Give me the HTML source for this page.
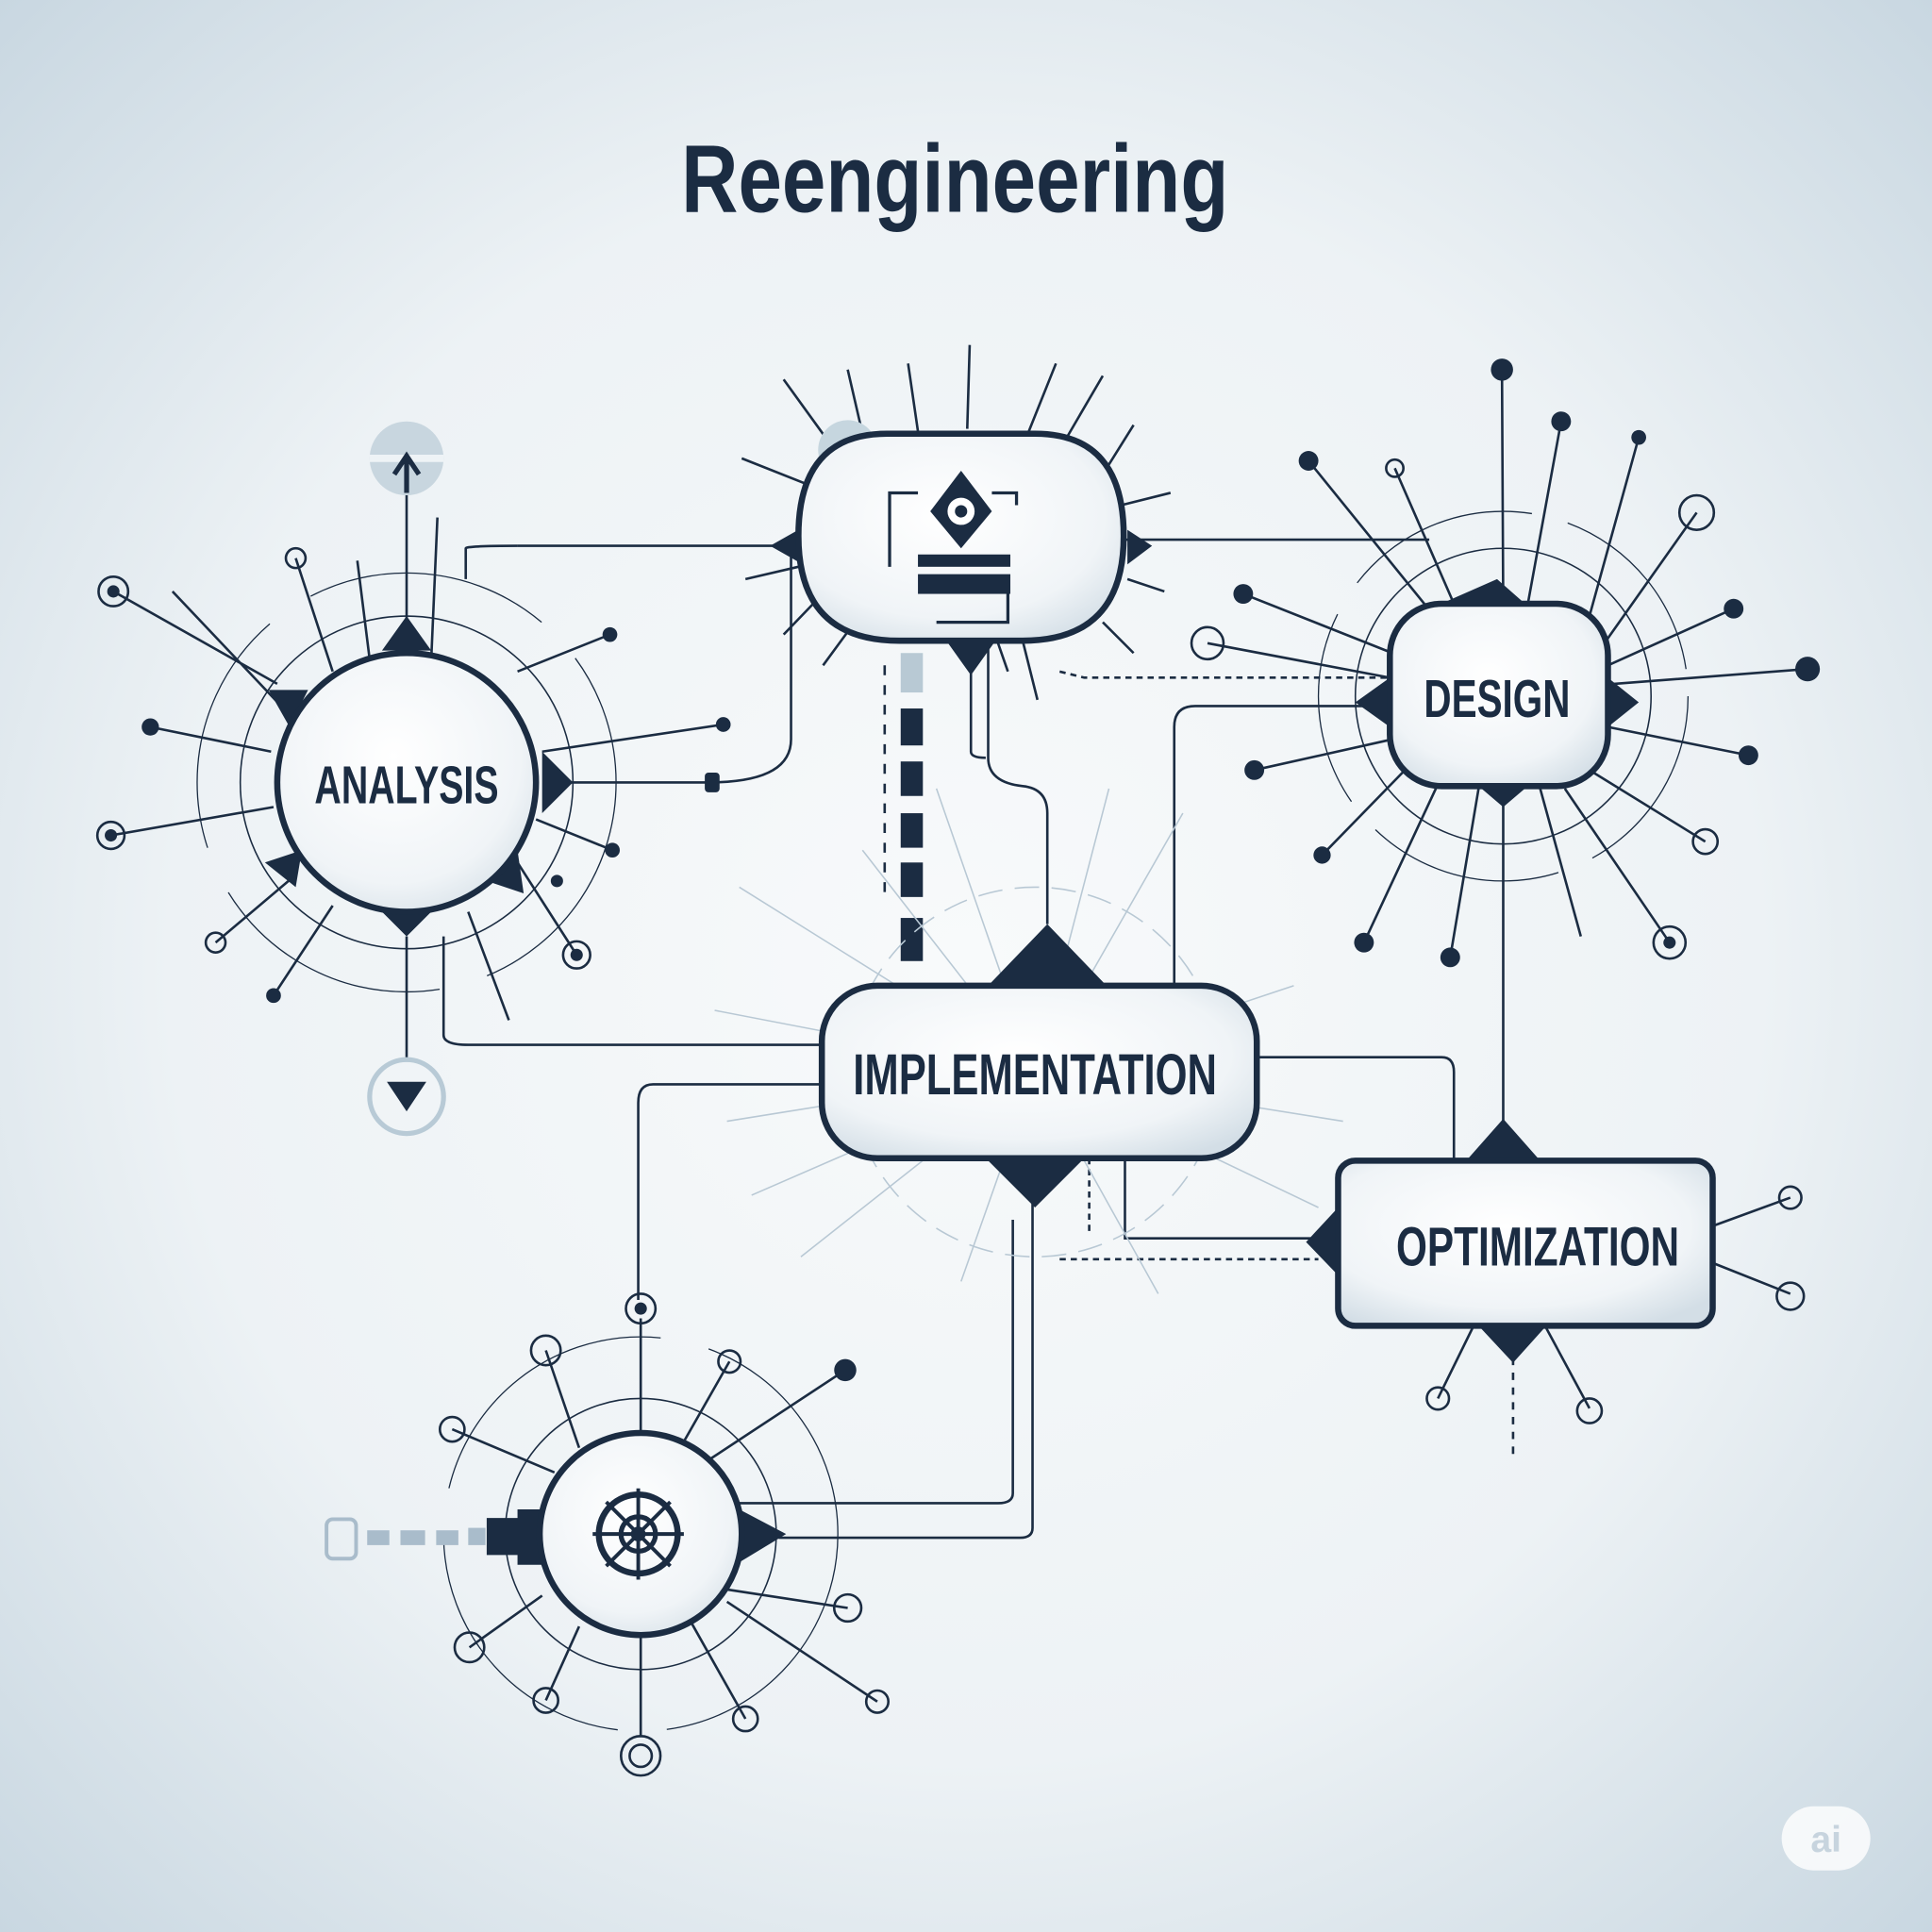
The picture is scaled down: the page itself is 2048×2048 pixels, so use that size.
<!DOCTYPE html>
<html><head><meta charset="utf-8"><style>
html,body{margin:0;padding:0;width:2048px;height:2048px;overflow:hidden}
svg{display:block}
text{font-family:"Liberation Sans Narrow","Liberation Sans",sans-serif;font-weight:bold;fill:#1b2c42}
</style></head><body>
<svg width="2048" height="2048" viewBox="0 0 1568 1568" xmlns="http://www.w3.org/2000/svg">
<defs>
<radialGradient id="bg" cx="50%" cy="50%" r="75%">
<stop offset="0" stop-color="#f8fafb"/><stop offset="0.55" stop-color="#edf2f5"/><stop offset="1" stop-color="#c3d3de"/>
</radialGradient>
<radialGradient id="nd" cx="45%" cy="40%" r="70%">
<stop offset="0" stop-color="#ffffff"/><stop offset="0.7" stop-color="#f0f4f7"/><stop offset="1" stop-color="#d3dee6"/>
</radialGradient>
</defs>
<rect width="1568" height="1568" fill="url(#bg)"/>
<text x="775" y="172" font-size="78" text-anchor="middle" transform="translate(775 0) scale(0.82 1) translate(-775 0)">Reengineering</text>

<g stroke="#1b2c42" stroke-width="2" fill="none">
<path d="M420 443 H640"/>
<path d="M378 470 V445 Q378 443 420 443"/>
<path d="M445 635 H575 Q642 635 642 600 V450"/>
<path d="M360 760 V840 Q360 848 380 848 H667"/>
<path d="M912 438 H1160"/>
<path d="M953 800 V590 Q953 573 970 573 H1128"/>
<path d="M850 750 V660 Q850 640 830 638 Q802 635 802 615 V520"/>
<path d="M788 520 V610 Q788 615 800 615"/>
<path d="M1020 858 H1170 Q1180 858 1180 870 V942"/>
<path d="M913 940 V1005 H1070"/>
<path d="M667 880 H530 Q518 880 518 895 V1055"/>
<path d="M838 960 V1240 Q838 1248 828 1248 H632"/>
<path d="M822 990 V1212 Q822 1220 810 1220 H600"/>
<path d="M1220 640 V942"/>
<path d="M330 530 V380"/>
<path d="M330 760 V860"/>
<path stroke-dasharray="5 4" d="M860 1022 H1070"/>
<path stroke-dasharray="5 4" d="M884 940 V1003"/>
<path stroke-dasharray="5 4" d="M860 545 L880 550 H1130"/>
<path stroke-dasharray="6 6" d="M1228 1078 V1180"/>
<path stroke-dasharray="8 8" d="M718 540 V730"/>
</g>
<g fill="#1b2c42">
<rect x="731" y="575" width="18" height="30"/><rect x="731" y="618" width="18" height="28"/><rect x="731" y="660" width="18" height="28"/><rect x="731" y="700" width="18" height="28"/><rect x="731" y="745" width="18" height="35"/>
</g>
<rect x="731" y="530" width="18" height="32" fill="#b8c9d4"/>

<g stroke="#b8c8d4" stroke-width="1.2">
<path d="M840 870 L600 720 M840 870 L580 820 M840 870 L590 910 M840 870 L610 970 M840 870 L650 1020 M840 870 L780 1040 M840 870 L940 1050 M840 870 L1070 980 M840 870 L1090 910 M840 870 L1050 800 M840 870 L960 660 M840 870 L900 640 M840 870 L700 690 M840 870 L760 640"/>
<circle cx="840" cy="870" r="150" fill="none" stroke-dasharray="20 10"/>
</g>

<g stroke="#1b2c42" stroke-width="2" fill="none">
<circle cx="330" cy="635" r="135" stroke-width="1.2"/>
<circle cx="330" cy="635" r="170" stroke-width="1" stroke-dasharray="200 40"/>
<path d="M225 555 L92 480 M220 610 L122 590 M222 655 L90 678 M240 710 L175 765 M270 735 L222 808 M380 740 L413 828 M420 700 L468 775 M435 665 L497 690 M440 610 L587 588 M420 545 L495 515 M350 535 L355 420 M300 535 L290 455 M270 545 L240 453 M230 575 L140 480"/>
<circle cx="92" cy="480" r="12"/><circle cx="90" cy="678" r="11"/><circle cx="175" cy="765" r="8"/><circle cx="468" cy="775" r="11"/><circle cx="240" cy="453" r="8"/>
</g>
<g fill="#1b2c42"><circle cx="92" cy="480" r="5"/><circle cx="90" cy="678" r="5"/><circle cx="122" cy="590" r="7"/><circle cx="222" cy="808" r="6"/><circle cx="497" cy="690" r="6"/><circle cx="495" cy="515" r="6"/><circle cx="452" cy="715" r="5"/><circle cx="468" cy="775" r="5"/><rect x="572" y="627" width="12" height="16" rx="3"/><circle cx="587" cy="588" r="6"/></g>
<circle cx="330" cy="372" r="30" fill="#c8d6df"/><path d="M300 372 H360" stroke="#eef3f6" stroke-width="6"/>
<path d="M330 400 V372 M320 385 L330 370 L340 385" stroke="#1b2c42" stroke-width="4" fill="none"/>
<circle cx="330" cy="890" r="30" fill="none" stroke="#b8cad6" stroke-width="4"/>
<path d="M314 878 L346 878 L330 902 Z" fill="#1b2c42"/>
<path d="M330 500 L350 528 L310 528 Z M218 560 L250 560 L235 590 Z M215 700 L245 690 L240 720 Z M420 690 L425 725 L395 715 Z M310 740 L350 740 L330 760 Z M440 610 L465 635 L440 660 Z" fill="#1b2c42"/>
<circle cx="330" cy="635" r="105" fill="url(#nd)" stroke="#1b2c42" stroke-width="5"/>
<text x="330" y="652" font-size="43" text-anchor="middle" transform="translate(330 0) scale(0.7 1) translate(-330 0)">ANALYSIS</text>

<g stroke="#1b2c42" stroke-width="2">
<path d="M670 355 L636 308 M700 352 L688 300 M745 350 L737 295 M785 348 L787 280 M835 350 L857 295 M860 365 L895 305 M895 385 L920 345 M910 410 L950 400 M915 470 L945 480 M895 505 L920 530 M830 520 L842 568 M810 522 L818 545 M690 510 L668 540 M660 490 L636 515 M648 460 L605 470 M660 395 L602 372"/>
</g>
<circle cx="688" cy="365" r="24" fill="#c6d6df"/>
<path d="M625 443 L648 430 L648 456 Z M915 430 L935 443 L915 458 Z M768 520 L808 520 L788 548 Z" fill="#1b2c42"/>
<path d="M720 352 H840 Q912 352 912 435 Q912 520 830 520 H730 Q648 520 648 435 Q648 352 720 352 Z" fill="url(#nd)" stroke="#1b2c42" stroke-width="5"/>
<g stroke="#1b2c42" stroke-width="2.5" fill="none"><path d="M745 400 H722 V460 M805 400 H825 V410 M818 480 V505 H760"/></g>
<path d="M780 382 L805 415 L780 445 L755 415 Z" fill="#1b2c42"/><circle cx="780" cy="415" r="11" fill="#fff"/><circle cx="780" cy="415" r="5" fill="#1b2c42"/>
<rect x="745" y="450" width="75" height="10" fill="#1b2c42"/><rect x="745" y="466" width="75" height="16" fill="#1b2c42"/>

<g stroke="#1b2c42" stroke-width="2" fill="none">
<circle cx="1220" cy="565" r="120" stroke-width="1.2"/>
<circle cx="1220" cy="565" r="150" stroke-width="1" stroke-dasharray="160 30"/>
<path d="M1220 490 L1219 300 M1240 490 L1267 342 M1290 500 L1330 355 M1300 525 L1377 416 M1305 540 L1407 494 M1310 555 L1467 543 M1305 590 L1419 613 M1290 625 L1384 683 M1270 640 L1355 765 M1250 640 L1283 760 M1200 640 L1177 777 M1170 630 L1107 765 M1150 615 L1073 694 M1130 600 L1018 625 M1128 550 L980 522 M1130 530 L1009 482 M1160 495 L1062 374 M1180 490 L1132 380"/>
<circle cx="1377" cy="416" r="14"/><circle cx="980" cy="522" r="13"/><circle cx="1384" cy="683" r="10"/><circle cx="1355" cy="765" r="13"/><circle cx="1132" cy="380" r="7"/>
</g>
<g fill="#1b2c42"><circle cx="1219" cy="300" r="9"/><circle cx="1267" cy="342" r="8"/><circle cx="1330" cy="355" r="6"/><circle cx="1407" cy="494" r="8"/><circle cx="1467" cy="543" r="10"/><circle cx="1419" cy="613" r="8"/><circle cx="1177" cy="777" r="8"/><circle cx="1107" cy="765" r="8"/><circle cx="1073" cy="694" r="7"/><circle cx="1018" cy="625" r="8"/><circle cx="1009" cy="482" r="8"/><circle cx="1062" cy="374" r="8"/><circle cx="1355" cy="765" r="5"/></g>
<path d="M1165 492 L1215 470 L1240 492 Z M1100 570 L1128 550 L1128 590 Z M1305 550 L1330 570 L1305 590 Z M1200 638 L1240 638 L1220 655 Z" fill="#1b2c42"/>
<rect x="1128" y="490" width="177" height="148" rx="42" fill="url(#nd)" stroke="#1b2c42" stroke-width="5"/>
<text x="1215" y="582" font-size="43" text-anchor="middle" transform="translate(1215 0) scale(0.72 1) translate(-1215 0)">DESIGN</text>

<path d="M800 802 L850 750 L900 802 Z M800 940 L880 940 L840 980 Z" fill="#1b2c42"/>
<rect x="667" y="800" width="353" height="140" rx="45" fill="url(#nd)" stroke="#1b2c42" stroke-width="5"/>
<text x="840" y="888" font-size="47" text-anchor="middle" transform="translate(840 0) scale(0.71 1) translate(-840 0)">IMPLEMENTATION</text>

<g stroke="#1b2c42" stroke-width="2" fill="none">
<path d="M1390 995 L1453 972 M1390 1025 L1453 1050 M1195 1078 L1167 1135 M1255 1078 L1290 1143"/>
<circle cx="1453" cy="972" r="9"/><circle cx="1453" cy="1052" r="11"/><circle cx="1167" cy="1135" r="9"/><circle cx="1290" cy="1145" r="10"/>
</g>
<path d="M1190 942 L1220 908 L1250 942 Z M1086 980 L1060 1008 L1086 1035 Z M1200 1076 L1255 1076 L1228 1106 Z" fill="#1b2c42"/>
<rect x="1086" y="942" width="304" height="134" rx="14" fill="url(#nd)" stroke="#1b2c42" stroke-width="5"/>
<text x="1248" y="1027" font-size="45" text-anchor="middle" transform="translate(1248 0) scale(0.72 1) translate(-1248 0)">OPTIMIZATION</text>

<g stroke="#1b2c42" stroke-width="2" fill="none">
<circle cx="520" cy="1245" r="110" stroke-width="1.2"/>
<circle cx="520" cy="1245" r="160" stroke-width="1" stroke-dasharray="230 40"/>
<path d="M520 1070 V1165 M470 1175 L443 1096 M450 1195 L367 1160 M440 1295 L381 1337 M470 1320 L443 1380 M520 1325 V1410 M560 1315 L605 1395 M590 1290 L688 1305 M590 1300 L712 1381 M575 1185 L686 1112 M555 1170 L592 1105"/>
<circle cx="520" cy="1062" r="12"/><circle cx="443" cy="1096" r="12"/><circle cx="367" cy="1160" r="10"/><circle cx="381" cy="1337" r="12"/><circle cx="443" cy="1380" r="10"/><circle cx="520" cy="1425" r="16"/><circle cx="520" cy="1425" r="9"/><circle cx="605" cy="1395" r="10"/><circle cx="688" cy="1305" r="11"/><circle cx="712" cy="1381" r="9"/><circle cx="592" cy="1105" r="9"/>
</g>
<circle cx="520" cy="1062" r="5" fill="#1b2c42"/><circle cx="686" cy="1112" r="9" fill="#1b2c42"/>
<g fill="#a9bccb"><rect x="298" y="1242" width="18" height="12"/><rect x="325" y="1242" width="20" height="12"/><rect x="354" y="1242" width="18" height="12"/><rect x="380" y="1240" width="14" height="14"/></g>
<rect x="265" y="1233" width="24" height="32" rx="5" fill="none" stroke="#a9bccb" stroke-width="3"/>
<path d="M395 1232 H420 V1225 H440 V1270 H420 V1262 H395 Z" fill="#1b2c42"/>
<path d="M600 1225 L638 1245 L600 1268 Z" fill="#1b2c42"/>
<circle cx="520" cy="1245" r="82" fill="url(#nd)" stroke="#1b2c42" stroke-width="5"/>
<g stroke="#1b2c42" fill="none"><circle cx="518" cy="1245" r="32" stroke-width="5"/><circle cx="518" cy="1245" r="14" stroke-width="4"/>
<path d="M518 1208 V1282 M481 1245 H555 M492 1219 L544 1271 M544 1219 L492 1271" stroke-width="3"/></g>
<circle cx="518" cy="1245" r="6" fill="#1b2c42"/>

<rect x="1446" y="1466" width="72" height="52" rx="26" fill="#ffffff" opacity="0.8"/>
<text x="1482" y="1503" font-size="30" text-anchor="middle" style="fill:#c7d4de;font-family:'Liberation Sans',sans-serif">ai</text>
</svg>
</body></html>
